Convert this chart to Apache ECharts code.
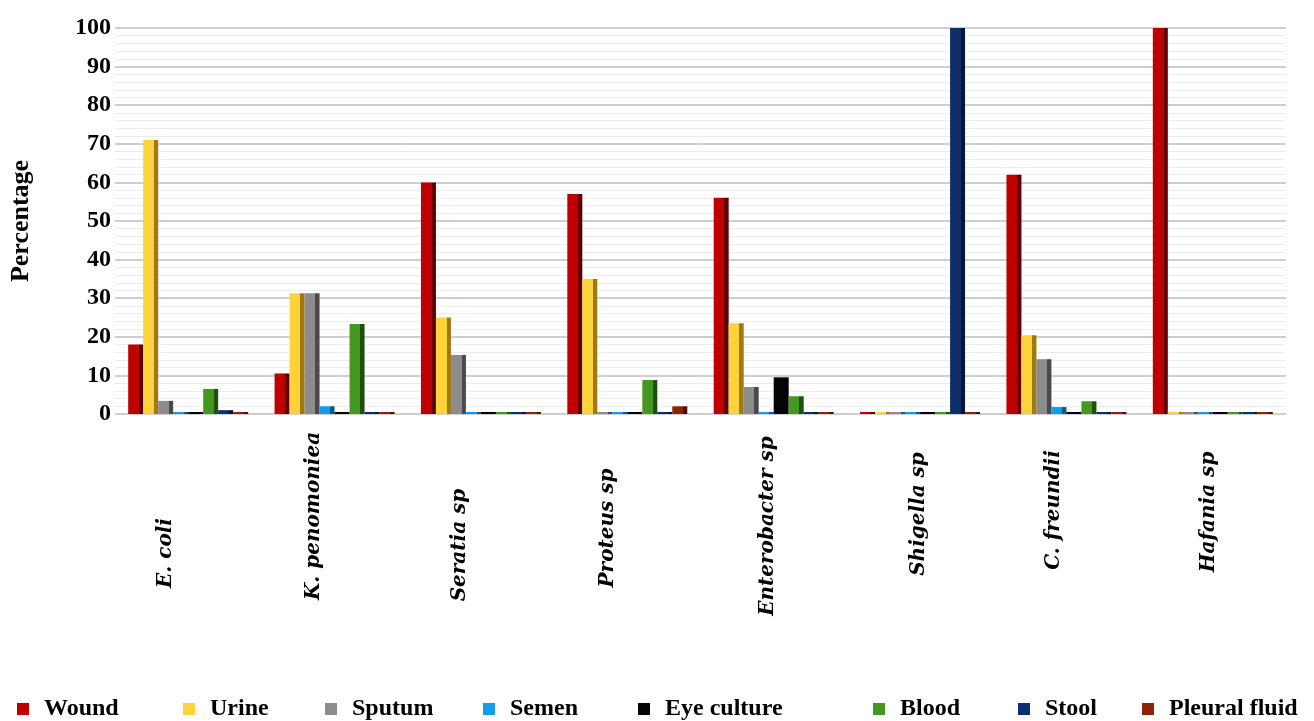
<!DOCTYPE html>
<html>
<head>
<meta charset="utf-8">
<script src="https://cdn.jsdelivr.net/npm/echarts@6/dist/echarts.min.js"></script>
<style>
  html, body { margin: 0; padding: 0; background: #fff; }
  #main { width: 1314px; height: 721px; }
</style>
</head>
<body>
<div id="main"></div>
<script>
// 细菌种类
var categories = ['E. coli', 'K. penomoniea', 'Seratia sp', 'Proteus sp', 'Enterobacter sp', 'Shigella sp', 'C. freundii', 'Hafania sp'];
var sampleNames = ['Wound', 'Urine', 'Sputum', 'Semen', 'Eye culture', 'Blood', 'Stool', 'Pleural fluid'];
var yTicks = [0, 10, 20, 30, 40, 50, 60, 70, 80, 90, 100];

// 各样本百分比
var wound = [18, 10.5, 60, 57, 56, 0, 62, 100];
var urine = [71, 31.3, 25, 35, 23.5, 0, 20.4, 0];
var sputum = [3.4, 31.3, 15.3, 0, 7, 0, 14.2, 0];
var semen = [0.5, 2, 0, 0, 0, 0, 1.8, 0];
var eyeCulture = [0, 0, 0, 0, 9.5, 0, 0, 0];
var blood = [6.5, 23.3, 0, 8.8, 4.6, 0, 3.3, 0];
var stool = [1, 0, 0, 0, 0, 100, 0, 0];
var pleuralFluid = [0, 0, 0, 2, 0, 0, 0, 0];

var seriesValues = [wound, urine, sputum, semen, eyeCulture, blood, stool, pleuralFluid];
var colors = ['#c00000', '#fdd23a', '#8c8c8c', '#129cec', '#050505', '#45981f', '#0e2f6a', '#8a2607'];
var darks = ['#5e0000', '#a07a10', '#4a4a4a', '#0a5a8a', '#000000', '#1f4f0c', '#061634', '#461203'];
var legendLeft = [12, 178, 320, 478, 633, 868, 1013, 1137];
// 标签沿轴方向的偏移（旋转后文字坐标的左右留白）
var labelPadding = [
  [0, 46, 0, 0], [0, 0, 0, 28], [0, 30, 0, 0], [0, 0, 0, 4],
  [0, 0, 0, 8], [0, 0, 0, 32], [0, 0, 0, 40], [0, 0, 0, 36]
];
// 标签向左的偏移
var labelShift = [22, 21, 21, 20, 6, 1, 13, 4];

var chart = echarts.init(document.getElementById('main'), null, { renderer: 'canvas' });

var serif = '"Liberation Serif", "DejaVu Serif", serif';
var labelFont = {
  fontFamily: '"DejaVu Serif", serif',
  fontStyle: 'italic',
  fontWeight: 'bold',
  fontSize: 20,
  color: '#000'
};

var rich = {};
categories.forEach(function (c, i) {
  rich['s' + i] = Object.assign({ padding: [0, 0, 2 * labelShift[i], 0] }, labelFont);
});

var legends = sampleNames.map(function (name, i) {
  return {
    data: [name],
    left: legendLeft[i],
    top: 692,
    icon: 'rect',
    itemWidth: 12,
    itemHeight: 12,
    itemStyle: { color: colors[i] },
    textStyle: { fontFamily: serif, fontWeight: 'bold', fontSize: 24, color: '#000', padding: [0, 0, 0, 10] }
  };
});

var series = sampleNames.map(function (name, i) {
  return {
    name: name,
    type: 'bar',
    barWidth: 15,
    barGap: '0%',
    barMinHeight: 2,
    data: seriesValues[i],
    itemStyle: {
      color: {
        type: 'linear', x: 0, y: 0, x2: 1, y2: 0,
        colorStops: [
          { offset: 0, color: colors[i] },
          { offset: 0.72, color: colors[i] },
          { offset: 0.72, color: darks[i] },
          { offset: 1, color: darks[i] }
        ]
      }
    }
  };
});

var option = {
  backgroundColor: '#fff',
  animation: false,
  legend: legends,
  grid: { left: 112, right: 28, top: 28, bottom: 307 },
  xAxis: {
    type: 'category',
    data: categories.map(function (c, i) {
      return { value: c, textStyle: { align: 'center', verticalAlign: 'middle', padding: labelPadding[i] } };
    }),
    axisLine: { show: false },
    axisTick: { show: false },
    axisLabel: Object.assign({
      rotate: 90,
      align: 'center',
      verticalAlign: 'middle',
      margin: 116,
      interval: 0,
      rich: rich,
      formatter: function (v, i) { return '{s' + i + '|' + v + '}'; }
    }, labelFont)
  },
  yAxis: {
    type: 'value',
    min: yTicks[0],
    max: yTicks[yTicks.length - 1],
    interval: 10,
    name: 'Percentage',
    nameLocation: 'middle',
    nameGap: 81,
    nameTextStyle: { fontFamily: serif, fontWeight: 'bold', fontSize: 26, color: '#000' },
    axisLine: { show: false },
    axisTick: { show: false },
    axisLabel: {
      margin: 4,
      fontFamily: serif,
      fontWeight: 'bold',
      fontSize: 24,
      color: '#000'
    },
    splitLine: { lineStyle: { color: '#cfcfcf', width: 2 } },
    minorTick: { show: false, splitNumber: 5 },
    minorSplitLine: { show: true, lineStyle: { color: '#ececec', width: 1 } }
  },
  series: series
};

chart.setOption(option);
</script>
</body>
</html>
